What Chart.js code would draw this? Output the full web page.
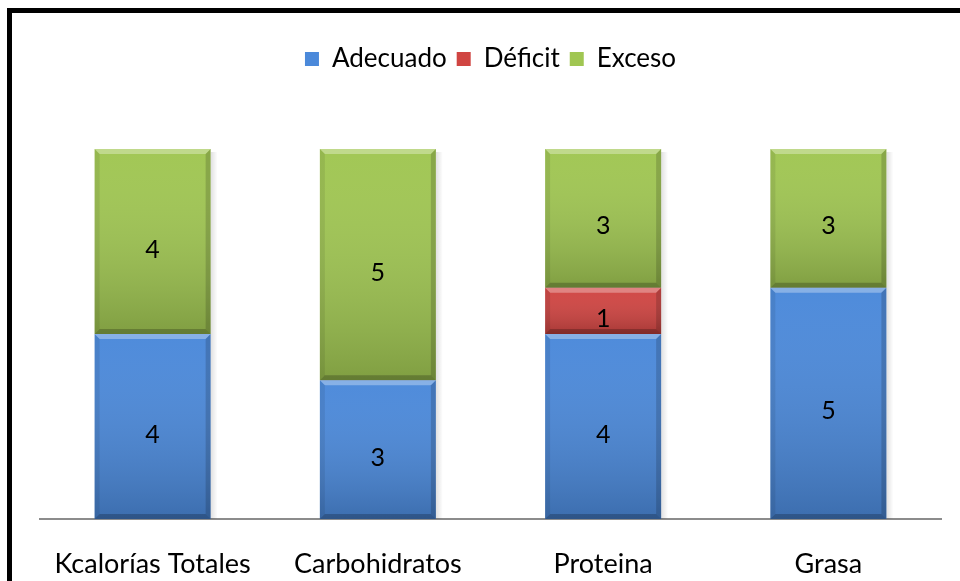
<!DOCTYPE html>
<html>
<head>
<meta charset="utf-8">
<script src="https://cdn.jsdelivr.net/npm/chart.js@4/dist/chart.umd.min.js"></script>
<style>
  html, body { margin: 0; padding: 0; background: #fff; }
  #wrap { width: 960px; height: 581px; position: relative; }
</style>
</head>
<body>
<div id="wrap"><canvas id="c" width="960" height="581"></canvas></div>
<script>
const categories = ['Kcalorías Totales', 'Carbohidratos', 'Proteina', 'Grasa'];
const adecuado = [4, 3, 4, 5];
const deficit  = [null, null, 1, null];
const exceso   = [4, 5, 3, 3];
const seriesNames = ['Adecuado', 'Déficit', 'Exceso'];

const FONT = 'Lato, "Open Sans", sans-serif';
const colors = ['#4b89da', '#d04542', '#a0c652'];

// Thick black frame around the whole figure
const framePlugin = {
  id: 'frame',
  beforeDraw(chart) {
    const ctx = chart.ctx;
    ctx.save();
    ctx.fillStyle = '#fff';
    ctx.fillRect(0, 0, chart.width, chart.height);
    ctx.strokeStyle = '#000';
    ctx.lineWidth = 5;
    ctx.strokeRect(9.5, 10.5, 960, 600);
    ctx.restore();
  }
};

// Extra room between the legend and the bars
const legendSpacer = {
  id: 'legendSpacer',
  beforeInit(chart) {
    const fit = chart.legend.fit;
    chart.legend.fit = function () {
      fit.call(this);
      this.height += 67;
    };
  }
};

// Soft shadow to the right of each bar stack
const shadowPlugin = {
  id: 'barShadow',
  beforeDatasetsDraw(chart) {
    const ctx = chart.ctx;
    const yScale = chart.scales.y;
    ctx.save();
    const metas = chart.getSortedVisibleDatasetMetas();
    categories.forEach((_, j) => {
      let top = Infinity, x = null, w = 0, base = yScale.getPixelForValue(0);
      metas.forEach(m => {
        const el = m.data[j];
        if (!el || chart.data.datasets[m.index].data[j] == null) return;
        const p = el.getProps(['x', 'y', 'width'], true);
        top = Math.min(top, p.y); x = p.x; w = p.width;
      });
      if (x === null) return;
      const r = x + w / 2;
      const g = ctx.createLinearGradient(r, 0, r + 7, 0);
      g.addColorStop(0, 'rgba(0,0,0,0.12)');
      g.addColorStop(1, 'rgba(0,0,0,0)');
      ctx.fillStyle = g;
      ctx.fillRect(r, top + 3, 7, base - top - 3);
    });
    ctx.restore();
  }
};

// Bevelled look on every bar segment
function bevel(ctx, l, t, r, b, s) {
  const h = b - t;
  s = Math.min(s, h / 2);
  const g = ctx.createLinearGradient(0, t, 0, b);
  g.addColorStop(0, 'rgba(255,255,255,0.02)');
  g.addColorStop(1, 'rgba(0,0,0,0.20)');
  ctx.fillStyle = g;
  ctx.fillRect(l, t, r - l, h);
  ctx.fillStyle = 'rgba(255,255,255,0.32)';
  ctx.beginPath(); ctx.moveTo(l, t); ctx.lineTo(r, t); ctx.lineTo(r - s, t + s); ctx.lineTo(l + s, t + s); ctx.closePath(); ctx.fill();
  ctx.fillStyle = 'rgba(0,0,0,0.22)';
  ctx.beginPath(); ctx.moveTo(l, b); ctx.lineTo(r, b); ctx.lineTo(r - s, b - s); ctx.lineTo(l + s, b - s); ctx.closePath(); ctx.fill();
  ctx.fillStyle = 'rgba(0,0,0,0.08)';
  ctx.beginPath(); ctx.moveTo(l, t); ctx.lineTo(l + s, t + s); ctx.lineTo(l + s, b - s); ctx.lineTo(l, b); ctx.closePath(); ctx.fill();
  ctx.fillStyle = 'rgba(0,0,0,0.16)';
  ctx.beginPath(); ctx.moveTo(r, t); ctx.lineTo(r - s, t + s); ctx.lineTo(r - s, b - s); ctx.lineTo(r, b); ctx.closePath(); ctx.fill();
}

const bevelPlugin = {
  id: 'bevel',
  afterDatasetsDraw(chart) {
    const ctx = chart.ctx;
    ctx.save();
    chart.data.datasets.forEach((ds, i) => {
      chart.getDatasetMeta(i).data.forEach((el, j) => {
        if (ds.data[j] == null) return;
        const p = el.getProps(['x', 'y', 'base', 'width'], true);
        const l = p.x - p.width / 2, r = p.x + p.width / 2;
        const t = Math.min(p.y, p.base), b = Math.max(p.y, p.base);
        bevel(ctx, l, t, r, b, 5);
        // value label, centred in its segment
        ctx.fillStyle = '#000';
        ctx.font = '25px ' + FONT;
        ctx.textAlign = 'center';
        ctx.textBaseline = 'middle';
        ctx.fillText(String(ds.data[j]), p.x, (t + b) / 2 + 8);
      });
    });
    ctx.restore();
  }
};

new Chart(document.getElementById('c'), {
  type: 'bar',
  data: {
    labels: categories,
    datasets: [
      { label: seriesNames[0], data: adecuado, backgroundColor: colors[0] },
      { label: seriesNames[1], data: deficit,  backgroundColor: colors[1] },
      { label: seriesNames[2], data: exceso,   backgroundColor: colors[2] }
    ]
  },
  options: {
    responsive: false,
    animation: false,
    layout: { padding: { left: 40, right: 19, top: 36, bottom: 0 } },
    datasets: { bar: { barPercentage: 0.515, categoryPercentage: 1.0, borderWidth: 0 } },
    scales: {
      x: {
        stacked: true,
        grid: { display: false, drawTicks: false },
        border: { display: true, color: '#8c8c8c', width: 2 },
        ticks: { color: '#000', font: { family: FONT, size: 27 }, padding: 29 },
        afterFit(scale) { scale.height = 62; }
      },
      y: {
        stacked: true,
        min: 0, max: 8,
        display: false
      }
    },
    plugins: {
      legend: {
        position: 'top',
        labels: {
          color: '#000',
          font: { family: FONT, size: 26 },
          boxWidth: 14, boxHeight: 14,
          padding: 10,
          generateLabels(chart) {
            return chart.data.datasets.map((d, i) => ({
              text: d.label, fillStyle: d.backgroundColor, strokeStyle: d.backgroundColor,
              lineWidth: 0, datasetIndex: i, hidden: false
            }));
          }
        }
      },
      tooltip: { enabled: false }
    }
  },
  plugins: [framePlugin, legendSpacer, shadowPlugin, bevelPlugin]
});
</script>
</body>
</html>
